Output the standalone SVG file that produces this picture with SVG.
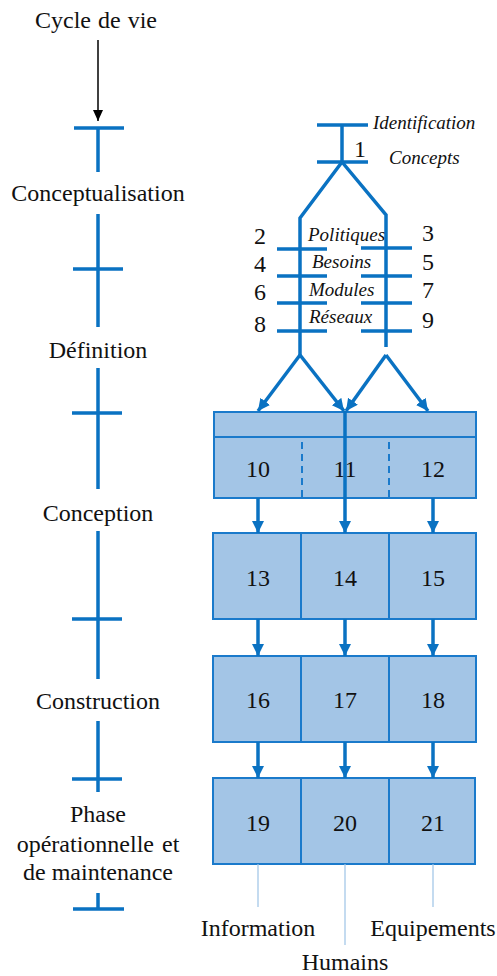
<svg xmlns="http://www.w3.org/2000/svg" width="497" height="976" viewBox="0 0 497 976" font-family="'Liberation Serif', 'Times New Roman', serif">
<style>
text{font-family:'Liberation Serif','Times New Roman',serif}
.t{font-size:24px;fill:#111;text-anchor:middle}
.i{font-size:19px;font-style:italic;fill:#111}
.n{font-size:24px;fill:#111;text-anchor:middle}
.b{stroke:#0A72C2;stroke-width:3.5;fill:none}
.box{fill:#A3C5E6;stroke:#1A7ACB;stroke-width:2}
.d{stroke:#1A7ACB;stroke-width:2;stroke-dasharray:7,5}
.thin{stroke:#9DC3E6;stroke-width:1.2}
</style>
<defs>
<marker id="ab" markerUnits="userSpaceOnUse" markerWidth="14" markerHeight="14" refX="12" refY="6" orient="auto"><path d="M0,0 L12,6 L0,12 z" fill="#0A72C2"/></marker>
<marker id="ak" markerUnits="userSpaceOnUse" markerWidth="12" markerHeight="12" refX="11" refY="5" orient="auto"><path d="M0,0 L11,5 L0,10 z" fill="#000"/></marker>
</defs>

<g id="timeline">
<text class="t" x="96" y="28" word-spacing="1">Cycle de vie</text>
<line x1="98" y1="40" x2="98" y2="121" stroke="#000" stroke-width="1.5" marker-end="url(#ak)"/>
<path class="b" d="M74,128 H124 M98,128 V172"/>
<text class="t" x="98" y="201">Conceptualisation</text>
<path class="b" d="M98,214 V327 M73,269 H123"/>
<text class="t" x="98" y="358">Définition</text>
<path class="b" d="M98,368 V489 M72,413 H122"/>
<text class="t" x="98" y="521">Conception</text>
<path class="b" d="M98,531 V679 M72,619 H122"/>
<text class="t" x="98" y="709">Construction</text>
<path class="b" d="M98,721 V792 M72,779 H122"/>
<text class="t" x="98" y="822">Phase</text>
<text class="t" x="98" y="852" word-spacing="2">opérationnelle et</text>
<text class="t" x="98" y="880">de maintenance</text>
<path class="b" d="M98,893 V909 M73,909 H124"/>
</g>

<g id="concepts">
<path class="b" d="M317,125 H368 M342,125 V162 M317,162 H368"/>
<text class="i" x="373" y="129">Identification</text>
<text class="n" x="360" y="157">1</text>
<text class="i" x="389" y="164">Concepts</text>
</g>

<g id="branches">
<path class="b" d="M342,162 L300,218 V355 M342,162 L386,215 V347"/>
<path class="b" d="M277,249 H327 M277,276 H327 M277,303 H327 M277,331 H327"/>
<path class="b" d="M361,248 H412 M361,276 H412 M361,303 H412 M361,331 H412"/>
<text class="n" x="260" y="244">2</text>
<text class="n" x="428" y="241">3</text>
<text class="n" x="260" y="272">4</text>
<text class="n" x="428" y="270">5</text>
<text class="n" x="260" y="300">6</text>
<text class="n" x="428" y="298">7</text>
<text class="n" x="260" y="332">8</text>
<text class="n" x="428" y="328">9</text>
<text class="i" x="308" y="241">Politiques</text>
<text class="i" x="312" y="268">Besoins</text>
<text class="i" x="309" y="296">Modules</text>
<text class="i" x="309" y="323">Réseaux</text>
</g>

<g id="row1">
<rect class="box" x="214" y="412" width="262" height="86"/>
<line x1="214" y1="437" x2="476" y2="437" stroke="#1A7ACB" stroke-width="2"/>
<line class="d" x1="302" y1="442" x2="302" y2="497"/>
<line class="d" x1="389" y1="442" x2="389" y2="497"/>
<text class="n" x="258" y="477">10</text>
<text class="n" x="345" y="477">11</text>
<text class="n" x="433" y="477">12</text>
</g>

<g id="row2">
<rect class="box" x="213" y="533" width="88" height="86"/>
<rect class="box" x="301" y="533" width="88" height="86"/>
<rect class="box" x="389" y="533" width="87" height="86"/>
<text class="n" x="258" y="586">13</text>
<text class="n" x="345" y="586">14</text>
<text class="n" x="433" y="586">15</text>
</g>

<g id="row3">
<rect class="box" x="213" y="656" width="88" height="86"/>
<rect class="box" x="301" y="656" width="88" height="86"/>
<rect class="box" x="389" y="656" width="87" height="86"/>
<text class="n" x="258" y="708">16</text>
<text class="n" x="345" y="708">17</text>
<text class="n" x="433" y="708">18</text>
</g>

<g id="row4">
<rect class="box" x="213" y="778" width="88" height="86"/>
<rect class="box" x="301" y="778" width="88" height="86"/>
<rect class="box" x="389" y="778" width="86" height="86"/>
<text class="n" x="258" y="831">19</text>
<text class="n" x="345" y="831">20</text>
<text class="n" x="433" y="831">21</text>
</g>

<g id="connectors">
<line class="b" x1="300" y1="355" x2="258" y2="411" marker-end="url(#ab)"/>
<line class="b" x1="300" y1="355" x2="344" y2="411" marker-end="url(#ab)"/>
<line class="b" x1="386" y1="355" x2="346" y2="411" marker-end="url(#ab)"/>
<line class="b" x1="386" y1="355" x2="428" y2="411" marker-end="url(#ab)"/>
<line class="b" x1="345" y1="411" x2="345" y2="533" marker-end="url(#ab)"/>
<line class="b" x1="258" y1="498" x2="258" y2="533" marker-end="url(#ab)"/>
<line class="b" x1="433" y1="498" x2="433" y2="533" marker-end="url(#ab)"/>
<line class="b" x1="258" y1="619" x2="258" y2="656" marker-end="url(#ab)"/>
<line class="b" x1="345" y1="619" x2="345" y2="656" marker-end="url(#ab)"/>
<line class="b" x1="433" y1="619" x2="433" y2="656" marker-end="url(#ab)"/>
<line class="b" x1="258" y1="742" x2="258" y2="778" marker-end="url(#ab)"/>
<line class="b" x1="345" y1="742" x2="345" y2="778" marker-end="url(#ab)"/>
<line class="b" x1="433" y1="742" x2="433" y2="778" marker-end="url(#ab)"/>
<line class="thin" x1="258" y1="864" x2="258" y2="907"/>
<line class="thin" x1="345" y1="864" x2="345" y2="945"/>
<line class="thin" x1="433" y1="864" x2="433" y2="907"/>
</g>

<g id="labels">
<text class="t" x="258" y="936">Information</text>
<text class="t" x="345" y="970">Humains</text>
<text class="t" x="433" y="936">Equipements</text>
</g>
</svg>
